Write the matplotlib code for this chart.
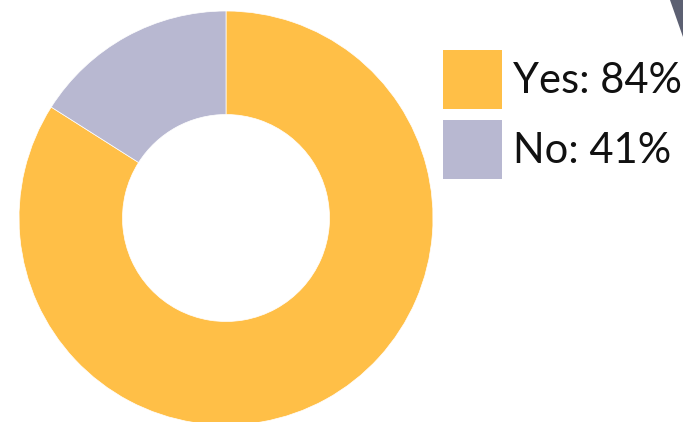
import matplotlib
matplotlib.use("Agg")
import matplotlib.pyplot as plt
from matplotlib.patches import Polygon

labels = ["Yes: 84%", "No: 41%"]
values = [84, 16]
colors = ["#FFBF47", "#B8B8D1"]

W, H = 683, 422
fig = plt.figure(figsize=(W / 100, H / 100), dpi=100)

R = 207
cx, cy = 226, 422 - 218
ax = fig.add_axes([(cx - R) / W, (cy - R) / H, 2 * R / W, 2 * R / H])
wedges, _ = ax.pie(values, colors=colors, startangle=90, counterclock=False,
                   radius=1.0, wedgeprops=dict(width=0.5, edgecolor="white", linewidth=0.5))
ax.set_xlim(-1, 1)
ax.set_ylim(-1, 1)
ax.set_aspect("equal")
ax.axis("off")

fs = 30
leg = fig.legend(wedges, labels, loc="upper left",
                 bbox_to_anchor=(443 / W, 1 - 50 / H), frameon=False,
                 prop=dict(family=["Lato", "DejaVu Sans"], weight="normal", size=fs),
                 handlelength=1.42, handleheight=1.8, handletextpad=0.25,
                 labelspacing=0.26, borderaxespad=0, borderpad=0)
for t in leg.get_texts():
    t.set_color("#111111")
for h in leg.legend_handles:
    h.set_edgecolor("none")

tri = Polygon([[670 / W, 1.0], [1.0, 1.0], [1.0, 1 - 37 / H]], closed=True,
              transform=fig.transFigure, facecolor="#5C6072", edgecolor="none")
fig.patches.append(tri)

fig.savefig("out.png", dpi=100)
